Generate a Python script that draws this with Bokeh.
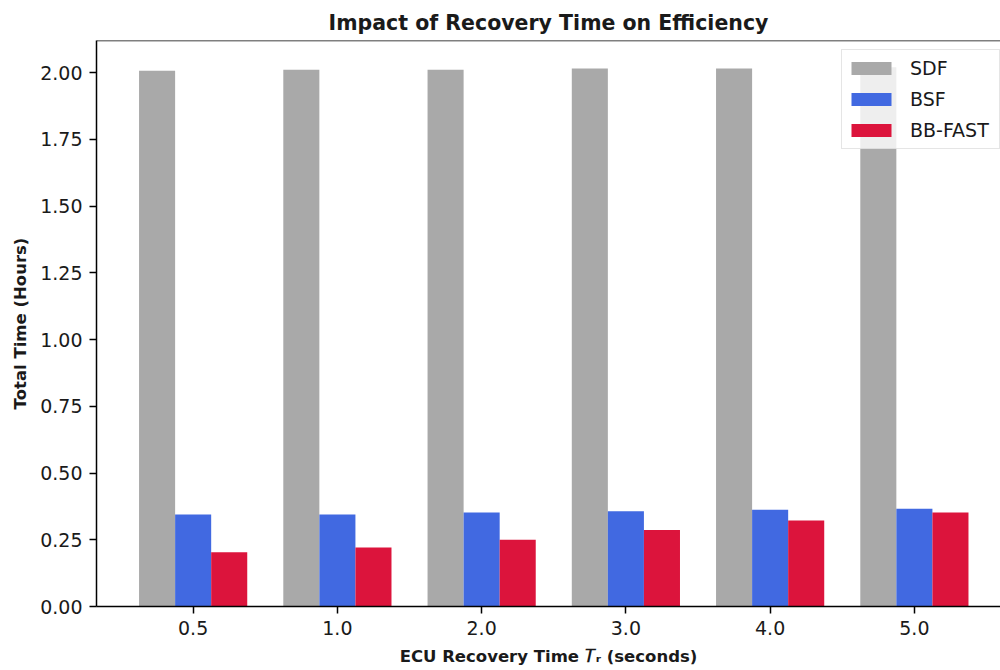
import math
from bokeh.plotting import figure
from bokeh.models import (ColumnDataSource, Range1d, FixedTicker, NumeralTickFormatter,
                          Legend, LegendItem, Span)
from bokeh.embed import file_html
from bokeh.resources import INLINE

# ---- data ----
categories = ["0.5", "1.0", "2.0", "3.0", "4.0", "5.0"]
sdf = [2.007, 2.010, 2.010, 2.015, 2.015, 2.020]
bsf = [0.345, 0.345, 0.352, 0.357, 0.362, 0.366]
bbfast = [0.203, 0.221, 0.250, 0.287, 0.322, 0.352]
series_names = ["SDF", "BSF", "BB-FAST"]
y_ticks = [0.0, 0.25, 0.5, 0.75, 1.0, 1.25, 1.5, 1.75, 2.0]
title_text = "Impact of Recovery Time on Efficiency"
ylabel_text = "Total Time (Hours)"
xlabel_text = "ECU Recovery Time \U0001D447\u1D63 (seconds)"

colors = ["#a9a9a9", "#4169e1", "#dc143c"]
FONT = "DejaVu Sans"
TXT = "#1a1a1a"

idx = list(range(len(categories)))
bar_w = 0.25
offsets = [-bar_w, 0.0, bar_w]

p = figure(width=1000, height=670, output_backend="svg", toolbar_location=None,
           x_range=Range1d(-0.670, 5.597), y_range=Range1d(0, 2.12),
           min_border_left=96, min_border_right=0, min_border_top=40, min_border_bottom=64)
p.outline_line_color = None
p.xgrid.visible = False
p.ygrid.visible = False
p.background_fill_color = "white"
p.border_fill_color = "white"

p.title.text = title_text
p.title.align = "center"
p.title.text_font = FONT
p.title.text_font_style = "bold"
p.title.text_font_size = "20.5px"
p.title.text_color = TXT
p.title.offset = 6
p.title.standoff = 12

renderers = []
for vals, off, col in zip([sdf, bsf, bbfast], offsets, colors):
    src = ColumnDataSource(dict(x=[i + off for i in idx], top=vals))
    r = p.vbar(x="x", top="top", bottom=0, width=bar_w, source=src,
               fill_color=col, line_color=None)
    renderers.append(r)

# axes
for ax in (p.xaxis[0], p.yaxis[0]):
    ax.axis_line_color = "black"
    ax.axis_line_width = 1.5
    ax.major_tick_line_color = "black"
    ax.major_tick_line_width = 1.5
    ax.major_tick_out = 7
    ax.major_tick_in = 0
    ax.minor_tick_line_color = None
    ax.major_label_text_font = FONT
    ax.major_label_text_font_size = "19px"
    ax.major_label_text_color = TXT
    ax.major_label_standoff = 7
    ax.axis_label_text_font = FONT
    ax.axis_label_text_font_style = "bold"
    ax.axis_label_text_font_size = "16.5px"
    ax.axis_label_text_color = TXT

p.xaxis.ticker = FixedTicker(ticks=idx)
p.xaxis.major_label_overrides = {i: c for i, c in zip(idx, categories)}
p.xaxis.axis_label = xlabel_text
p.xaxis.axis_label_standoff = 9
p.yaxis.ticker = FixedTicker(ticks=y_ticks)
p.yaxis.formatter = NumeralTickFormatter(format="0.00")
p.yaxis.axis_label = ylabel_text
p.yaxis.axis_label_standoff = 7

# top spine
p.add_layout(Span(location=2.12, dimension="width", line_color="black", line_width=1.5))

# legend
legend = Legend(items=[LegendItem(label=n, renderers=[r]) for n, r in zip(series_names, renderers)],
                location=(745, 457), orientation="vertical",
                padding=4, spacing=3, glyph_width=50, glyph_height=16,
                label_standoff=14, label_width=85, label_height=28,
                label_text_font=FONT, label_text_font_size="19px", label_text_color=TXT,
                border_line_color="#cccccc", border_line_width=1,
                background_fill_color="white", background_fill_alpha=0.8)
p.add_layout(legend, "center")

open("out.html", "w").write(file_html(p, INLINE))
